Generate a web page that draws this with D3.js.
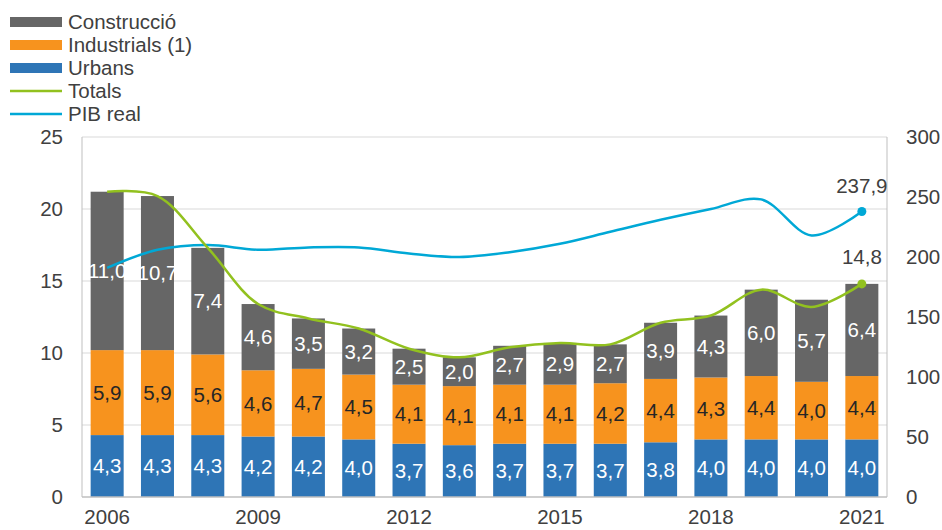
<!DOCTYPE html>
<html lang="ca">
<head>
  <meta charset="UTF-8">
  <title>Construcció, Industrials, Urbans i PIB real</title>
  <style>
    body, html {
      margin: 0;
      padding: 0;
      background: #fff;
      font-family: Arial, "Liberation Sans", sans-serif;
    }
  </style>
</head>
<body>
  <svg id="svg" width="942" height="530"></svg>

  <script src="https://cdn.jsdelivr.net/npm/d3@7"></script>
  <script>
    const years = [2006, 2007, 2008, 2009, 2010, 2011, 2012, 2013, 2014, 2015, 2016, 2017, 2018, 2019, 2020, 2021];
    const urbans = [4.3, 4.3, 4.3, 4.2, 4.2, 4.0, 3.7, 3.6, 3.7, 3.7, 3.7, 3.8, 4.0, 4.0, 4.0, 4.0];
    const industrials = [5.9, 5.9, 5.6, 4.6, 4.7, 4.5, 4.1, 4.1, 4.1, 4.1, 4.2, 4.4, 4.3, 4.4, 4.0, 4.4];
    const construccio = [11.0, 10.7, 7.4, 4.6, 3.5, 3.2, 2.5, 2.0, 2.7, 2.9, 2.7, 3.9, 4.3, 6.0, 5.7, 6.4];
    const totals = [21.2, 20.9, 17.3, 13.4, 12.4, 11.7, 10.3, 9.7, 10.4, 10.7, 10.6, 12.1, 12.6, 14.4, 13.2, 14.8];
    const pibReal = [191, 206, 210, 206, 208, 208, 203, 200, 204, 211, 221, 231, 240, 248, 218, 237.9];
    const xTickYears = [2006, 2009, 2012, 2015, 2018, 2021];
    const leftTicks = [0, 5, 10, 15, 20, 25];
    const rightTicks = [0, 50, 100, 150, 200, 250, 300];

    const colors = {
      construccio: '#666666',
      industrials: '#F7931E',
      urbans: '#2E75B6',
      totals: '#92C11F',
      pib: '#00A8D6'
    };

    const fmt = v => v.toFixed(1).replace('.', ',');

    const plot = { left: 82, right: 887, top: 137, bottom: 497 };
    const svg = d3.select('#svg');

    const xScale = d3.scaleBand()
      .domain(years)
      .range([plot.left, plot.right])
      .paddingInner(0.344)
      .paddingOuter(0.172);

    const yLeft = d3.scaleLinear().domain([0, 25]).range([plot.bottom, plot.top]);
    const yRight = d3.scaleLinear().domain([0, 300]).range([plot.bottom, plot.top]);

    const cx = y => xScale(y) + xScale.bandwidth() / 2;

    // gridlines
    svg.append('g')
      .selectAll('line')
      .data(leftTicks.slice(1))
      .enter()
      .append('line')
      .attr('x1', plot.left)
      .attr('x2', plot.right)
      .attr('y1', d => yLeft(d))
      .attr('y2', d => yLeft(d))
      .attr('stroke', '#d9d9d9')
      .attr('stroke-width', 1);

    // stacked bars
    const rows = years.map((y, i) => ({
      year: y,
      urbans: urbans[i],
      industrials: industrials[i],
      construccio: construccio[i]
    }));
    const keys = ['urbans', 'industrials', 'construccio'];
    const stacked = d3.stack().keys(keys)(rows);

    const labelColor = { urbans: '#ffffff', industrials: '#262626', construccio: '#ffffff' };

    stacked.forEach(layer => {
      const g = svg.append('g');
      g.selectAll('rect')
        .data(layer)
        .enter()
        .append('rect')
        .attr('x', d => xScale(d.data.year))
        .attr('width', xScale.bandwidth())
        .attr('y', d => yLeft(d[1]))
        .attr('height', d => yLeft(d[0]) - yLeft(d[1]))
        .attr('fill', colors[layer.key]);

      g.selectAll('text')
        .data(layer)
        .enter()
        .append('text')
        .attr('x', d => cx(d.data.year))
        .attr('y', d => (yLeft(d[0]) + yLeft(d[1])) / 2)
        .attr('dy', '0.35em')
        .attr('text-anchor', 'middle')
        .style('font-size', '20.5px')
        .attr('fill', labelColor[layer.key])
        .text(d => fmt(d.data[layer.key]));
    });

    // axis lines
    svg.append('line')
      .attr('x1', plot.left).attr('x2', plot.left)
      .attr('y1', plot.top).attr('y2', plot.bottom)
      .attr('stroke', '#bfbfbf');
    svg.append('line')
      .attr('x1', plot.right).attr('x2', plot.right)
      .attr('y1', plot.top).attr('y2', plot.bottom)
      .attr('stroke', '#bfbfbf');
    svg.append('line')
      .attr('x1', plot.left).attr('x2', plot.right)
      .attr('y1', plot.bottom).attr('y2', plot.bottom)
      .attr('stroke', '#bfbfbf')
      .attr('stroke-width', 1.5);

    // left ticks
    svg.append('g')
      .selectAll('text')
      .data(leftTicks)
      .enter()
      .append('text')
      .attr('x', 63)
      .attr('y', d => yLeft(d))
      .attr('dy', '0.35em')
      .attr('text-anchor', 'end')
      .style('font-size', '20.5px')
      .attr('fill', '#404040')
      .text(d => d);

    // right ticks
    svg.append('g')
      .selectAll('text')
      .data(rightTicks)
      .enter()
      .append('text')
      .attr('x', 906)
      .attr('y', d => yRight(d))
      .attr('dy', '0.35em')
      .attr('text-anchor', 'start')
      .style('font-size', '20.5px')
      .attr('fill', '#404040')
      .text(d => d);

    // x labels, kept just inside the bottom edge
    svg.append('g')
      .selectAll('text')
      .data(xTickYears)
      .enter()
      .append('text')
      .attr('x', d => cx(d))
      .attr('y', 524)
      .attr('text-anchor', 'middle')
      .style('font-size', '20.5px')
      .attr('fill', '#404040')
      .text(d => d);

    // lines
    const totalsLine = d3.line()
      .x((d, i) => cx(years[i]))
      .y(d => yLeft(d))
      .curve(d3.curveCatmullRom.alpha(0.5));

    const pibLine = d3.line()
      .x((d, i) => cx(years[i]))
      .y(d => yRight(d))
      .curve(d3.curveCatmullRom.alpha(0.5));

    svg.append('path')
      .datum(pibReal)
      .attr('d', pibLine)
      .attr('fill', 'none')
      .attr('stroke', colors.pib)
      .attr('stroke-width', 2.5);

    svg.append('path')
      .datum(totals)
      .attr('d', totalsLine)
      .attr('fill', 'none')
      .attr('stroke', colors.totals)
      .attr('stroke-width', 2.5);

    // end markers and labels
    const last = years.length - 1;
    svg.append('circle')
      .attr('cx', cx(years[last]))
      .attr('cy', yRight(pibReal[last]))
      .attr('r', 4.5)
      .attr('fill', colors.pib);
    svg.append('circle')
      .attr('cx', cx(years[last]))
      .attr('cy', yLeft(totals[last]))
      .attr('r', 4.5)
      .attr('fill', colors.totals);

    svg.append('text')
      .attr('x', cx(years[last]))
      .attr('y', yRight(pibReal[last]) - 19)
      .attr('text-anchor', 'middle')
      .style('font-size', '20.5px')
      .attr('fill', '#404040')
      .text(fmt(pibReal[last]));
    svg.append('text')
      .attr('x', cx(years[last]))
      .attr('y', yLeft(totals[last]) - 20)
      .attr('text-anchor', 'middle')
      .style('font-size', '20.5px')
      .attr('fill', '#404040')
      .text(fmt(totals[last]));

    // legend
    const legendItems = [
      { name: 'Construcció', color: colors.construccio, type: 'rect' },
      { name: 'Industrials (1)', color: colors.industrials, type: 'rect' },
      { name: 'Urbans', color: colors.urbans, type: 'rect' },
      { name: 'Totals', color: colors.totals, type: 'line' },
      { name: 'PIB real', color: colors.pib, type: 'line' }
    ];

    const legend = svg.append('g');
    legendItems.forEach((item, i) => {
      const cy = 22 + i * 23;
      if (item.type === 'rect') {
        legend.append('rect')
          .attr('x', 10).attr('y', cy - 5)
          .attr('width', 52).attr('height', 10)
          .attr('fill', item.color);
      } else {
        legend.append('line')
          .attr('x1', 10).attr('x2', 62)
          .attr('y1', cy).attr('y2', cy)
          .attr('stroke', item.color)
          .attr('stroke-width', 2.5);
      }
      legend.append('text')
        .attr('x', 68)
        .attr('y', cy)
        .attr('dy', '0.35em')
        .style('font-size', '20.5px')
        .attr('fill', '#404040')
        .text(item.name);
    });
  </script>
</body>
</html>
